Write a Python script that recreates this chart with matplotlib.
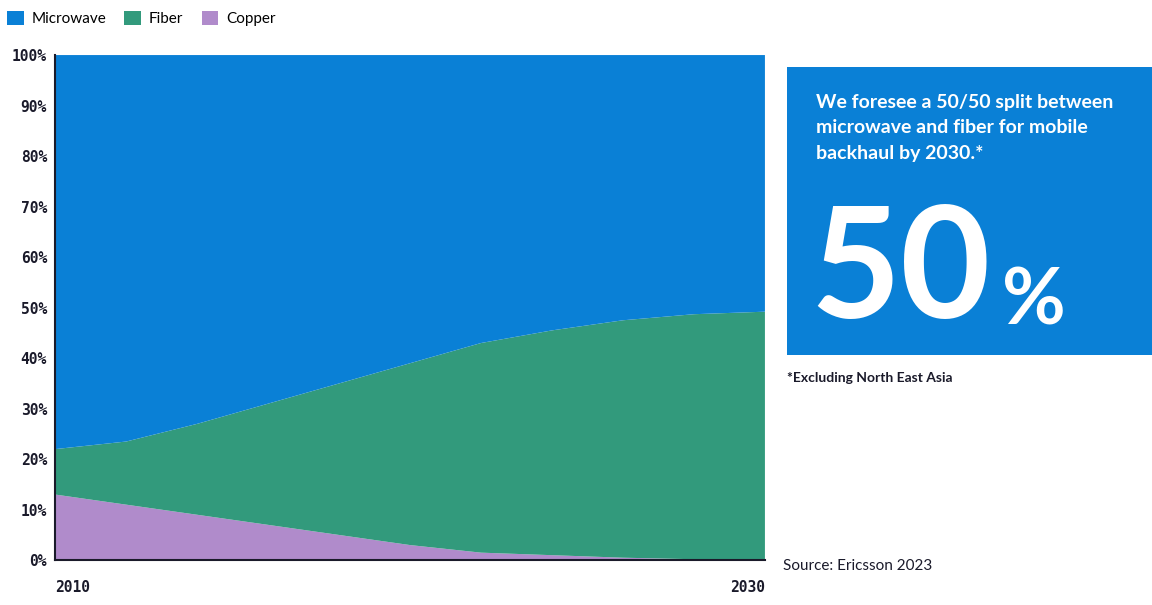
import matplotlib
matplotlib.use("Agg")
import matplotlib.pyplot as plt
from matplotlib.patches import Patch, Rectangle

# data (percent of backhaul links)
years = [2010, 2012, 2014, 2016, 2018, 2020, 2022, 2024, 2026, 2028, 2030]
copper = [13.0, 11.0, 9.0, 7.0, 5.0, 3.0, 1.5, 1.0, 0.5, 0.2, 0.0]
fiber = [9.0, 12.5, 18.0, 24.0, 30.0, 36.0, 41.5, 44.5, 47.0, 48.5, 49.2]
microwave = [100 - c - f for c, f in zip(copper, fiber)]

series_names = ["Microwave", "Fiber", "Copper"]
colors = {"Microwave": "#0a80d6", "Fiber": "#329a7c", "Copper": "#b08bcb"}

y_ticks = list(range(0, 101, 10))
x_ticks = [2010, 2030]

fig = plt.figure(figsize=(11.52, 6.05), dpi=100)
ax = fig.add_axes([0.048, 0.074, 0.616, 0.835])

ax.stackplot(years, copper, fiber, microwave,
	colors=[colors["Copper"], colors["Fiber"], colors["Microwave"]],
	linewidth=0)

ax.set_xlim(years[0], years[-1])
ax.set_ylim(0, 100)
ax.set_yticks(y_ticks)
ax.set_yticklabels(["{}%".format(t) for t in y_ticks])
ax.set_xticks(x_ticks)
ax.set_xticklabels([str(t) for t in x_ticks])
ax.tick_params(length=0, labelsize=10.5, colors="#1a1a2a", pad=6)
for lbl in ax.get_xticklabels() + ax.get_yticklabels():
	lbl.set_fontfamily("DejaVu Sans Mono")
	lbl.set_fontweight("bold")
xl = ax.get_xticklabels()
xl[0].set_horizontalalignment("left")
xl[-1].set_horizontalalignment("right")
ax.tick_params(axis="x", pad=14)
for sp in ["top", "right"]:
	ax.spines[sp].set_visible(False)
for sp in ["left", "bottom"]:
	ax.spines[sp].set_color("#1a1a2a")
	ax.spines[sp].set_linewidth(1.5)

# legend on top
handles = [Patch(facecolor=colors[n], edgecolor="none", label=n) for n in series_names]
fig.legend(handles=handles, loc="upper left", bbox_to_anchor=(-0.006, 1.005), ncol=3,
	frameon=False, handlelength=1.1, handleheight=1.1, handletextpad=0.5,
	columnspacing=1.2, prop={"family": "Lato", "size": 11})

# callout box
fig.patches.append(Rectangle((0.683, 0.413), 0.32, 0.476, transform=fig.transFigure,
	facecolor=colors["Microwave"], edgecolor="none"))
fig.text(0.708, 0.845, "We foresee a 50/50 split between\nmicrowave and fiber for mobile\nbackhaul by 2030.*",
	color="white", fontsize=14, fontweight="bold", family="Lato",
	va="top", ha="left", linespacing=1.6)
fig.text(0.703, 0.474, "50", color="white", fontsize=112, fontweight="bold",
	family="Lato", va="baseline", ha="left")
fig.text(0.870, 0.463, "%", color="white", fontsize=56, fontweight="bold",
	family="Lato", va="baseline", ha="left")

fig.text(0.683, 0.375, "*Excluding North East Asia", color="#1a1a2a", fontsize=10,
	fontweight="bold", family="Lato", va="center", ha="left")
fig.text(0.680, 0.065, "Source: Ericsson 2023", color="#1a1a2a", fontsize=11,
	family="Lato", va="center", ha="left")

fig.savefig("out.png", dpi=100)
